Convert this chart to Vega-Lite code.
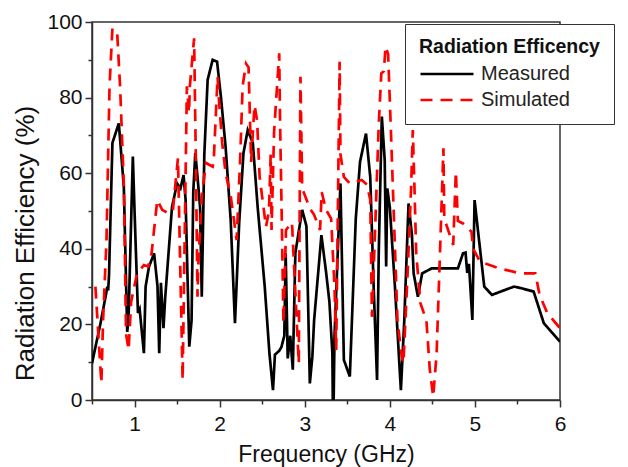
{
  "$schema": "https://vega.github.io/schema/vega-lite/v6.json",
  "width": 468,
  "height": 378,
  "autosize": {"type": "none"},
  "padding": {"left": 92, "top": 22, "right": 68, "bottom": 67},
  "background": "white",
  "config": {
    "view": {"stroke": "#333333", "strokeWidth": 1.5},
    "font": "Liberation Sans"
  },
  "data": {
    "values": [
      {"series": "Measured", "f": 0.50, "v": 9.7},
      {"series": "Measured", "f": 0.60, "v": 20.3},
      {"series": "Measured", "f": 0.665, "v": 28},
      {"series": "Measured", "f": 0.68, "v": 30},
      {"series": "Measured", "f": 0.69, "v": 29},
      {"series": "Measured", "f": 0.70, "v": 33},
      {"series": "Measured", "f": 0.74, "v": 68},
      {"series": "Measured", "f": 0.815, "v": 73.2},
      {"series": "Measured", "f": 0.874, "v": 56.4},
      {"series": "Measured", "f": 0.914, "v": 18},
      {"series": "Measured", "f": 0.93, "v": 22},
      {"series": "Measured", "f": 0.98, "v": 64.4},
      {"series": "Measured", "f": 1.00, "v": 50},
      {"series": "Measured", "f": 1.04, "v": 23},
      {"series": "Measured", "f": 1.06, "v": 24},
      {"series": "Measured", "f": 1.11, "v": 12.4},
      {"series": "Measured", "f": 1.13, "v": 30},
      {"series": "Measured", "f": 1.17, "v": 35.3},
      {"series": "Measured", "f": 1.23, "v": 38.8},
      {"series": "Measured", "f": 1.27, "v": 30},
      {"series": "Measured", "f": 1.29, "v": 12.4},
      {"series": "Measured", "f": 1.31, "v": 31},
      {"series": "Measured", "f": 1.34, "v": 19},
      {"series": "Measured", "f": 1.36, "v": 27},
      {"series": "Measured", "f": 1.44, "v": 51},
      {"series": "Measured", "f": 1.50, "v": 57.3},
      {"series": "Measured", "f": 1.54, "v": 56},
      {"series": "Measured", "f": 1.576, "v": 59.5},
      {"series": "Measured", "f": 1.60, "v": 53},
      {"series": "Measured", "f": 1.643, "v": 14.1},
      {"series": "Measured", "f": 1.67, "v": 21},
      {"series": "Measured", "f": 1.69, "v": 55},
      {"series": "Measured", "f": 1.714, "v": 65.3},
      {"series": "Measured", "f": 1.74, "v": 59},
      {"series": "Measured", "f": 1.77, "v": 51},
      {"series": "Measured", "f": 1.79, "v": 27.3},
      {"series": "Measured", "f": 1.82, "v": 65},
      {"series": "Measured", "f": 1.859, "v": 84.7},
      {"series": "Measured", "f": 1.918, "v": 90},
      {"series": "Measured", "f": 1.97, "v": 89.5},
      {"series": "Measured", "f": 2.015, "v": 80.2},
      {"series": "Measured", "f": 2.07, "v": 67},
      {"series": "Measured", "f": 2.13, "v": 47.6},
      {"series": "Measured", "f": 2.18, "v": 20.3},
      {"series": "Measured", "f": 2.23, "v": 47},
      {"series": "Measured", "f": 2.28, "v": 65.3},
      {"series": "Measured", "f": 2.33, "v": 71.4},
      {"series": "Measured", "f": 2.39, "v": 68},
      {"series": "Measured", "f": 2.447, "v": 51},
      {"series": "Measured", "f": 2.53, "v": 30},
      {"series": "Measured", "f": 2.585, "v": 12.4},
      {"series": "Measured", "f": 2.627, "v": 2.6},
      {"series": "Measured", "f": 2.65, "v": 12},
      {"series": "Measured", "f": 2.70, "v": 13},
      {"series": "Measured", "f": 2.726, "v": 14},
      {"series": "Measured", "f": 2.76, "v": 17},
      {"series": "Measured", "f": 2.776, "v": 38.8},
      {"series": "Measured", "f": 2.80, "v": 11},
      {"series": "Measured", "f": 2.83, "v": 17},
      {"series": "Measured", "f": 2.86, "v": 8},
      {"series": "Measured", "f": 2.89, "v": 38.9},
      {"series": "Measured", "f": 2.97, "v": 50.3},
      {"series": "Measured", "f": 3.02, "v": 46},
      {"series": "Measured", "f": 3.06, "v": 4.4},
      {"series": "Measured", "f": 3.09, "v": 11.6},
      {"series": "Measured", "f": 3.11, "v": 21},
      {"series": "Measured", "f": 3.196, "v": 43.6},
      {"series": "Measured", "f": 3.25, "v": 34},
      {"series": "Measured", "f": 3.29, "v": 26},
      {"series": "Measured", "f": 3.325, "v": 12.3},
      {"series": "Measured", "f": 3.33, "v": 0},
      {"series": "Measured", "f": 3.34, "v": 0},
      {"series": "Measured", "f": 3.35, "v": 17},
      {"series": "Measured", "f": 3.42, "v": 57.3},
      {"series": "Measured", "f": 3.46, "v": 10.6},
      {"series": "Measured", "f": 3.53, "v": 6.2},
      {"series": "Measured", "f": 3.60, "v": 48},
      {"series": "Measured", "f": 3.65, "v": 63},
      {"series": "Measured", "f": 3.72, "v": 70.5},
      {"series": "Measured", "f": 3.77, "v": 59},
      {"series": "Measured", "f": 3.81, "v": 30},
      {"series": "Measured", "f": 3.85, "v": 5.3},
      {"series": "Measured", "f": 3.87, "v": 39},
      {"series": "Measured", "f": 3.906, "v": 75},
      {"series": "Measured", "f": 3.94, "v": 63.5},
      {"series": "Measured", "f": 3.957, "v": 35.3},
      {"series": "Measured", "f": 3.97, "v": 56},
      {"series": "Measured", "f": 4.00, "v": 51},
      {"series": "Measured", "f": 4.06, "v": 30},
      {"series": "Measured", "f": 4.13, "v": 2.6},
      {"series": "Measured", "f": 4.17, "v": 21},
      {"series": "Measured", "f": 4.22, "v": 52},
      {"series": "Measured", "f": 4.26, "v": 43.6},
      {"series": "Measured", "f": 4.28, "v": 33.5},
      {"series": "Measured", "f": 4.33, "v": 27.3},
      {"series": "Measured", "f": 4.38, "v": 33.5},
      {"series": "Measured", "f": 4.49, "v": 34.8},
      {"series": "Measured", "f": 4.80, "v": 34.8},
      {"series": "Measured", "f": 4.86, "v": 38.8},
      {"series": "Measured", "f": 4.89, "v": 39},
      {"series": "Measured", "f": 4.91, "v": 33.6},
      {"series": "Measured", "f": 4.93, "v": 36},
      {"series": "Measured", "f": 4.97, "v": 21.2},
      {"series": "Measured", "f": 4.996, "v": 52.9},
      {"series": "Measured", "f": 5.04, "v": 44},
      {"series": "Measured", "f": 5.11, "v": 30},
      {"series": "Measured", "f": 5.20, "v": 27.8},
      {"series": "Measured", "f": 5.34, "v": 29},
      {"series": "Measured", "f": 5.46, "v": 30},
      {"series": "Measured", "f": 5.54, "v": 29.6},
      {"series": "Measured", "f": 5.69, "v": 28.7},
      {"series": "Measured", "f": 5.81, "v": 20.3},
      {"series": "Measured", "f": 6.00, "v": 15.4},
      {"series": "Simulated", "f": 0.54, "v": 30},
      {"series": "Simulated", "f": 0.61, "v": 4.4},
      {"series": "Simulated", "f": 0.63, "v": 21},
      {"series": "Simulated", "f": 0.67, "v": 42},
      {"series": "Simulated", "f": 0.706, "v": 83},
      {"series": "Simulated", "f": 0.74, "v": 98.3},
      {"series": "Simulated", "f": 0.796, "v": 97},
      {"series": "Simulated", "f": 0.83, "v": 83},
      {"series": "Simulated", "f": 0.875, "v": 56.4},
      {"series": "Simulated", "f": 0.90, "v": 17.6},
      {"series": "Simulated", "f": 0.93, "v": 13.2},
      {"series": "Simulated", "f": 0.96, "v": 26},
      {"series": "Simulated", "f": 1.03, "v": 33.5},
      {"series": "Simulated", "f": 1.11, "v": 35.7},
      {"series": "Simulated", "f": 1.16, "v": 35.3},
      {"series": "Simulated", "f": 1.20, "v": 38.8},
      {"series": "Simulated", "f": 1.267, "v": 52.9},
      {"series": "Simulated", "f": 1.325, "v": 50.3},
      {"series": "Simulated", "f": 1.40, "v": 49.4},
      {"series": "Simulated", "f": 1.45, "v": 50},
      {"series": "Simulated", "f": 1.51, "v": 64},
      {"series": "Simulated", "f": 1.565, "v": 5.3},
      {"series": "Simulated", "f": 1.615, "v": 83},
      {"series": "Simulated", "f": 1.64, "v": 76},
      {"series": "Simulated", "f": 1.65, "v": 83},
      {"series": "Simulated", "f": 1.70, "v": 95.7},
      {"series": "Simulated", "f": 1.72, "v": 64},
      {"series": "Simulated", "f": 1.74, "v": 27.3},
      {"series": "Simulated", "f": 1.75, "v": 36},
      {"series": "Simulated", "f": 1.79, "v": 54},
      {"series": "Simulated", "f": 1.84, "v": 62.7},
      {"series": "Simulated", "f": 1.918, "v": 61.7},
      {"series": "Simulated", "f": 1.93, "v": 63},
      {"series": "Simulated", "f": 1.976, "v": 85.5},
      {"series": "Simulated", "f": 1.99, "v": 80},
      {"series": "Simulated", "f": 2.03, "v": 68},
      {"series": "Simulated", "f": 2.07, "v": 60},
      {"series": "Simulated", "f": 2.13, "v": 54},
      {"series": "Simulated", "f": 2.20, "v": 42.3},
      {"series": "Simulated", "f": 2.24, "v": 63},
      {"series": "Simulated", "f": 2.27, "v": 83},
      {"series": "Simulated", "f": 2.31, "v": 89},
      {"series": "Simulated", "f": 2.34, "v": 88},
      {"series": "Simulated", "f": 2.37, "v": 63},
      {"series": "Simulated", "f": 2.41, "v": 78},
      {"series": "Simulated", "f": 2.44, "v": 74},
      {"series": "Simulated", "f": 2.47, "v": 59},
      {"series": "Simulated", "f": 2.545, "v": 45.8},
      {"series": "Simulated", "f": 2.58, "v": 50},
      {"series": "Simulated", "f": 2.60, "v": 65},
      {"series": "Simulated", "f": 2.61, "v": 45},
      {"series": "Simulated", "f": 2.64, "v": 71},
      {"series": "Simulated", "f": 2.70, "v": 91.7},
      {"series": "Simulated", "f": 2.71, "v": 74},
      {"series": "Simulated", "f": 2.73, "v": 48},
      {"series": "Simulated", "f": 2.75, "v": 20.3},
      {"series": "Simulated", "f": 2.78, "v": 45},
      {"series": "Simulated", "f": 2.85, "v": 47},
      {"series": "Simulated", "f": 2.93, "v": 9.7},
      {"series": "Simulated", "f": 2.95, "v": 85.5},
      {"series": "Simulated", "f": 2.97, "v": 56},
      {"series": "Simulated", "f": 3.06, "v": 50.7},
      {"series": "Simulated", "f": 3.11, "v": 49},
      {"series": "Simulated", "f": 3.18, "v": 45},
      {"series": "Simulated", "f": 3.20, "v": 55},
      {"series": "Simulated", "f": 3.25, "v": 50.3},
      {"series": "Simulated", "f": 3.31, "v": 48},
      {"series": "Simulated", "f": 3.35, "v": 30},
      {"series": "Simulated", "f": 3.37, "v": 13.2},
      {"series": "Simulated", "f": 3.41, "v": 89.5},
      {"series": "Simulated", "f": 3.42, "v": 65},
      {"series": "Simulated", "f": 3.46, "v": 59},
      {"series": "Simulated", "f": 3.53, "v": 57.3},
      {"series": "Simulated", "f": 3.67, "v": 58.2},
      {"series": "Simulated", "f": 3.73, "v": 57},
      {"series": "Simulated", "f": 3.77, "v": 53},
      {"series": "Simulated", "f": 3.79, "v": 22},
      {"series": "Simulated", "f": 3.83, "v": 47},
      {"series": "Simulated", "f": 3.87, "v": 73},
      {"series": "Simulated", "f": 3.90, "v": 86.4},
      {"series": "Simulated", "f": 3.93, "v": 87},
      {"series": "Simulated", "f": 3.95, "v": 93.5},
      {"series": "Simulated", "f": 3.98, "v": 91.5},
      {"series": "Simulated", "f": 4.01, "v": 73},
      {"series": "Simulated", "f": 4.05, "v": 47},
      {"series": "Simulated", "f": 4.09, "v": 21},
      {"series": "Simulated", "f": 4.14, "v": 11.5},
      {"series": "Simulated", "f": 4.16, "v": 9.7},
      {"series": "Simulated", "f": 4.21, "v": 34},
      {"series": "Simulated", "f": 4.25, "v": 56},
      {"series": "Simulated", "f": 4.27, "v": 71.4},
      {"series": "Simulated", "f": 4.29, "v": 56},
      {"series": "Simulated", "f": 4.31, "v": 38.8},
      {"series": "Simulated", "f": 4.36, "v": 25.6},
      {"series": "Simulated", "f": 4.43, "v": 21},
      {"series": "Simulated", "f": 4.47, "v": 8},
      {"series": "Simulated", "f": 4.51, "v": 0.9},
      {"series": "Simulated", "f": 4.55, "v": 12.3},
      {"series": "Simulated", "f": 4.60, "v": 46},
      {"series": "Simulated", "f": 4.63, "v": 66.6},
      {"series": "Simulated", "f": 4.64, "v": 48},
      {"series": "Simulated", "f": 4.745, "v": 41},
      {"series": "Simulated", "f": 4.776, "v": 60.4},
      {"series": "Simulated", "f": 4.80, "v": 47.4},
      {"series": "Simulated", "f": 4.86, "v": 46.7},
      {"series": "Simulated", "f": 4.96, "v": 44.5},
      {"series": "Simulated", "f": 4.98, "v": 40},
      {"series": "Simulated", "f": 5.06, "v": 36.6},
      {"series": "Simulated", "f": 5.29, "v": 34.8},
      {"series": "Simulated", "f": 5.53, "v": 33.5},
      {"series": "Simulated", "f": 5.71, "v": 33.5},
      {"series": "Simulated", "f": 5.76, "v": 27.8},
      {"series": "Simulated", "f": 5.85, "v": 23},
      {"series": "Simulated", "f": 6.00, "v": 19}
    ]
  },
  "mark": {"type": "line", "strokeWidth": 2.7, "clip": true},
  "encoding": {
    "x": {
      "field": "f",
      "type": "quantitative",
      "scale": {"domain": [0.5, 6], "nice": false, "zero": false},
      "axis": {
        "title": "Frequency (GHz)",
        "values": [0.5, 1, 1.5, 2, 2.5, 3, 3.5, 4, 4.5, 5, 5.5, 6],
        "labelExpr": "datum.value % 1 === 0 ? format(datum.value, 'd') : ''",
        "tickSize": {"condition": {"test": "datum.value % 1 !== 0", "value": 4}, "value": 7},
        "grid": false,
        "domainColor": "#333333",
        "domainWidth": 1.5,
        "tickColor": "#333333",
        "tickWidth": 1.5,
        "labelFontSize": 21,
        "labelColor": "#111111",
        "labelPadding": 6,
        "labelFlush": false,
        "labelOverlap": false,
        "titleFontSize": 23,
        "titleFontWeight": "normal",
        "titleColor": "#111111",
        "titlePadding": 9
      }
    },
    "y": {
      "field": "v",
      "type": "quantitative",
      "scale": {"domain": [0, 100], "nice": false},
      "axis": {
        "title": "Radiation Efficiency (%)",
        "values": [0, 10, 20, 30, 40, 50, 60, 70, 80, 90, 100],
        "labelExpr": "datum.value % 20 === 0 ? datum.label : ''",
        "tickSize": {"condition": {"test": "datum.value % 20 !== 0", "value": 4}, "value": 7},
        "grid": false,
        "domainColor": "#333333",
        "domainWidth": 1.5,
        "tickColor": "#333333",
        "tickWidth": 1.5,
        "labelFontSize": 21,
        "labelColor": "#111111",
        "labelPadding": 3,
        "labelFlush": false,
        "labelOverlap": false,
        "titleFontSize": 26,
        "titleFontWeight": "normal",
        "titleColor": "#111111",
        "titlePadding": 8,
        "titleY": 221
      }
    },
    "color": {
      "field": "series",
      "type": "nominal",
      "scale": {"domain": ["Measured", "Simulated"], "range": ["#000000", "#ff0000"]},
      "legend": {
        "title": "Radiation Efficency",
        "titleLimit": 400,
        "orient": "none",
        "legendX": 313,
        "legendY": 2,
        "strokeColor": "#333333",
        "fillColor": "white",
        "padding": 14,
        "titleFontSize": 19.5,
        "titleFontWeight": "bold",
        "titleColor": "#111111",
        "titlePadding": 5,
        "labelFontSize": 20,
        "labelColor": "#222222",
        "labelOffset": 39,
        "symbolType": "M-1,0H4.3",
        "symbolSize": 400,
        "symbolStrokeWidth": 2.5,
        "rowPadding": 4
      }
    },
    "strokeDash": {
      "field": "series",
      "type": "nominal",
      "scale": {"domain": ["Measured", "Simulated"], "range": [[1, 0], [12, 8]]},
      "legend": {
        "title": "Radiation Efficency",
        "titleLimit": 400,
        "orient": "none",
        "legendX": 313,
        "legendY": 2,
        "strokeColor": "#333333",
        "fillColor": "white",
        "padding": 14,
        "titleFontSize": 19.5,
        "titleFontWeight": "bold",
        "titleColor": "#111111",
        "titlePadding": 5,
        "labelFontSize": 20,
        "labelColor": "#222222",
        "labelOffset": 39,
        "symbolType": "M-1,0H4.3",
        "symbolSize": 400,
        "symbolStrokeWidth": 2.5,
        "rowPadding": 4
      }
    }
  }
}
